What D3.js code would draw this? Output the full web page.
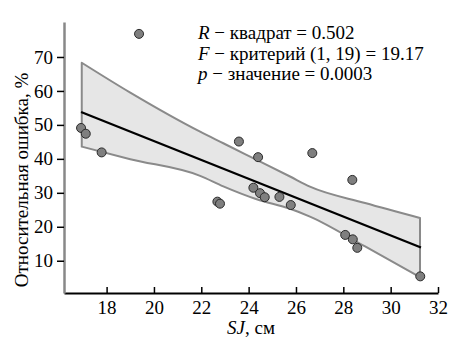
<!DOCTYPE html>
<html><head><meta charset="utf-8">
<script src="https://cdn.jsdelivr.net/npm/d3@7"></script>
<style>body{margin:0;background:#fff}</style>
</head><body><svg id="c" width="460" height="359"></svg>
<script>
const sjX = [19.37,16.92,17.12,17.79,23.59,24.40,26.69,28.38,22.68,22.79,24.20,24.48,24.68,25.30,25.78,28.08,28.40,28.59,31.25];
const errY = [76.8,49.1,47.4,41.9,45.1,40.5,41.7,33.8,27.4,26.8,31.5,29.9,28.7,28.8,26.4,17.6,16.3,13.8,5.4];
const fitX = [16.92,31.28];
const fitY = [53.8,13.9];
const bandX = [16.95,19.0,21.95,22.93,24.34,25.75,26.59,28.92,31.24];
const bandUpper = [68.3,59.5,48.0,44.6,39.7,34.8,31.8,27.0,22.6];
const bandLower = [43.6,39.9,35.0,31.9,28.1,25.3,23.0,14.2,5.2];
const xTicks = [18,20,22,24,26,28,30,32];
const yTicks = [10,20,30,40,50,60,70];
const statLines = [
  {v:"R", t:" − квадрат = 0.502"},
  {v:"F", t:" − критерий (1, 19) = 19.17"},
  {v:"p", t:" − значение = 0.0003"}
];

const FONT = "Liberation Serif";
const svg = d3.select("#c");
const m = {l:64, r:22, t:22, b:66};
const W = 460, H = 359;
const x = d3.scaleLinear().domain([16.2,32]).range([m.l, W-m.r]);
const y = d3.scaleLinear().domain([0.5,80.3]).range([H-m.b, m.t]);

// band
const area = d3.area().x(d=>x(d)).y0((d,i)=>y(bandLower[i])).y1((d,i)=>y(bandUpper[i])).curve(d3.curveMonotoneX);
svg.append("path").attr("d", area(bandX))
  .attr("fill","#e6e6e6").attr("stroke","#8a8a8a").attr("stroke-width",2).attr("stroke-linejoin","round");

// fit line
svg.append("path")
  .attr("d", d3.line()(fitX.map((d,i)=>[x(d), y(fitY[i])])))
  .attr("stroke","#000").attr("stroke-width",2.3).attr("fill","none");

// points
svg.append("g").selectAll("circle").data(sjX).join("circle")
  .attr("cx", d=>x(d)).attr("cy",(d,i)=>y(errY[i])).attr("r",4.5)
  .attr("fill","#7f7f7f").attr("stroke","#2a2a2a").attr("stroke-width",1);

// x axis
const xa = svg.append("g").attr("transform",`translate(0,${H-m.b})`)
  .call(d3.axisBottom(x).tickValues(xTicks).tickSizeInner(-6).tickSizeOuter(0).tickPadding(8));
xa.attr("font-family", FONT);
xa.select(".domain").attr("stroke","#000").attr("stroke-width",2);
xa.selectAll(".tick line").attr("stroke","#000").attr("stroke-width",1.5);
xa.selectAll("text").attr("font-size",19).attr("font-family",FONT).attr("fill","#000");

// y axis
const ya = svg.append("g").attr("transform",`translate(${m.l},0)`)
  .call(d3.axisLeft(y).tickValues(yTicks).tickSizeInner(7).tickSizeOuter(0).tickPadding(4));
ya.attr("font-family", FONT);
ya.select(".domain").attr("stroke","#888").attr("stroke-width",2.5);
ya.selectAll(".tick line").attr("stroke","#000").attr("stroke-width",1.5);
ya.selectAll("text").attr("font-size",19).attr("font-family",FONT).attr("fill","#000");

// axis titles
const xt = svg.append("text").attr("x",(m.l+W-m.r)/2).attr("y",334).attr("text-anchor","middle")
  .attr("font-size",19).attr("font-family",FONT);
xt.append("tspan").attr("font-style","italic").text("SJ");
xt.append("tspan").text(", см");
svg.append("text").attr("transform","translate(28,180) rotate(-90)").attr("text-anchor","middle")
  .attr("font-size",19).attr("font-family",FONT).text("Относительная ошибка, %");

// stats
statLines.forEach((s,i)=>{
  const t = svg.append("text").attr("x",198).attr("y",39+i*20.5).attr("font-size",19).attr("font-family",FONT);
  t.append("tspan").attr("font-style","italic").text(s.v);
  t.append("tspan").text(s.t);
});
</script></body></html>
